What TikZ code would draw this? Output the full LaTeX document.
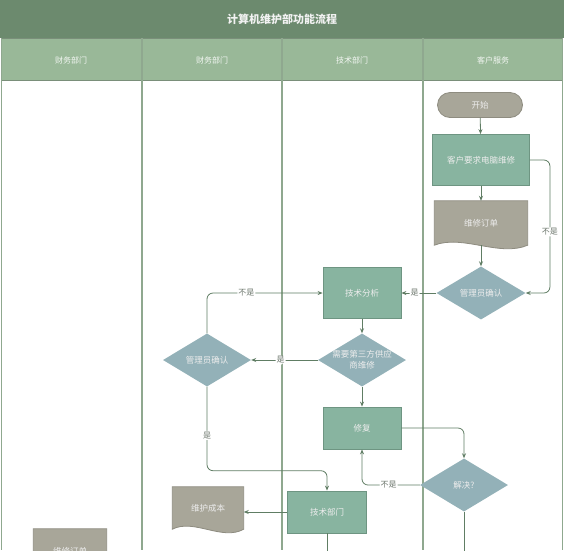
\documentclass[tikz,border=0pt]{standalone}
\usepackage{fontspec}
\setmainfont{Noto Sans CJK SC}
\usetikzlibrary{arrows.meta,shapes.geometric,calc}
\definecolor{titlegreen}{HTML}{6C8A6E}
\definecolor{headgreen}{HTML}{99B898}
\definecolor{laneline}{HTML}{8FA88F}
\definecolor{procfill}{HTML}{88B4A0}
\definecolor{procline}{HTML}{6E9582}
\definecolor{greyfill}{HTML}{A8A699}
\definecolor{greyline}{HTML}{8E8C80}
\definecolor{decfill}{HTML}{93B1B8}
\definecolor{flowline}{HTML}{607D64}
\definecolor{lbltext}{HTML}{6E786E}
\pgfdeclarelayer{lanes}
\pgfdeclarelayer{paper}
\pgfsetlayers{lanes,paper,main}
\newcommand\docwave[1]{\filldraw[fill=greyfill, draw=greyline, line width=0.8pt] (#1.south west) -- (#1.north west) -- (#1.north east) -- (#1.south east) .. controls ($(#1.south east)!0.3!(#1.south west)+(0,12)$) and ($(#1.south east)!0.7!(#1.south west)+(0,-11)$) .. (#1.south west) -- cycle;}
\begin{document}
\begin{tikzpicture}[x=1pt, y=-1pt, every node/.style={text=white!93!black, inner sep=2pt, font=\fontsize{8.5}{10.5}\selectfont},
	proc/.style={rectangle, fill=procfill, draw=procline, line width=0.8pt},
	term/.style={rectangle, rounded corners=12.5pt, fill=greyfill, draw=greyline, line width=0.8pt, minimum width=85pt, minimum height=25pt},
	docbox/.style={rectangle},
	dec/.style={diamond, fill=decfill, inner sep=0pt, minimum width=89pt, minimum height=53pt},
	lanehead/.style={text=white!88!headgreen, font=\fontsize{8}{10}\selectfont},
	flow/.style={draw=flowline, line width=0.8pt, rounded corners=6pt, -{Stealth[length=5pt,width=4pt]}},
	tail/.style={draw=flowline, line width=0.8pt},
	lbl/.style={fill=white, text=lbltext, inner sep=1pt, font=\fontsize{8}{9}\selectfont}]
	\useasboundingbox (0,0) rectangle (564,550);
	\clip (0,0) rectangle (564,550);
	\begin{pgfonlayer}{lanes}
		\fill[white] (0,0) rectangle (564,550);
		\fill[titlegreen] (0,0) rectangle (564,38);
		\fill[headgreen] (1,38) rectangle (563,80);
		\draw[laneline!85!black, line width=1pt] (1,38) -- (563,38) (1,80) -- (563,80);
		\foreach \lx in {1.5,142,282,423,562.5}
			\draw[laneline, line width=1.5pt] (\lx,38) -- (\lx,550);
	\end{pgfonlayer}
	\node[font=\bfseries\fontsize{11}{13}\selectfont, text=white!95!black] (title) at (282,19) {计算机维护部功能流程};
	\node[lanehead] (h1) at (71,60) {财务部门};
	\node[lanehead] (h2) at (212,60) {财务部门};
	\node[lanehead] (h3) at (352,60) {技术部门};
	\node[lanehead] (h4) at (493,60) {客户服务};
	\node[term] (start) at (480,105) {开始};
	\node[proc, minimum width=97pt, minimum height=51pt] (req) at (481,160) {客户要求电脑维修};
	\node[docbox, minimum width=93pt, minimum height=44pt] (order) at (481,223) {维修订单};
	\node[dec] (chk1) at (481,293) {\makebox[0pt]{管理员确认}};
	\node[proc, minimum width=78pt, minimum height=51pt] (ana) at (362,293) {技术分析};
	\node[dec, minimum width=88pt] (third) at (362,360) {\makebox[0pt]{\shortstack{需要第三方供应\\商维修}}};
	\node[dec, minimum width=88pt] (chk2) at (207,360) {\makebox[0pt]{管理员确认}};
	\node[proc, minimum width=78pt, minimum height=42pt] (fix) at (362,428) {修复};
	\node[dec, minimum width=88pt] (solve) at (464,485) {\makebox[0pt]{解决?}};
	\node[proc, minimum width=79pt, minimum height=42pt] (tdep) at (327,512) {技术部门};
	\node[docbox, minimum width=71pt, minimum height=42pt] (cost) at (208,508) {维护成本};
	\node[docbox, minimum width=73pt, minimum height=44pt] (fin) at (70,551) {维修订单};
	\begin{pgfonlayer}{paper}
		\clip (0,0) rectangle (564,550);
		\docwave{order}
		\docwave{cost}
		\docwave{fin}
	\end{pgfonlayer}
	\draw[flow] (start) -- (req);
	\draw[flow] (req) -- (order);
	\draw[flow] (order.south) -- (chk1);
	\draw[flow] (req.east) -- ++(20,0) |- node[lbl, pos=0.27] (l1) {不是} (chk1.east);
	\draw[flow] (chk1.west) -- node[lbl, pos=0.62] (l2) {是} (ana.east);
	\draw[flow] (ana) -- (third);
	\draw[flow] (third.west) -- node[lbl, pos=0.56] (l3) {是} (chk2.east);
	\draw[flow] (chk2.north) |- node[lbl, pos=0.67] (l4) {不是} (ana.west);
	\draw[flow] (third) -- (fix);
	\draw[flow] (fix.east) -| (solve.north);
	\draw[flow] (solve.west) -| node[lbl, pos=0.27] (l5) {不是} (fix.south);
	\draw[flow] (chk2.south) -- node[lbl, pos=0.58] (l6) {是} ++(0,84) -| (tdep.north);
	\draw[flow] (tdep.west) -- (tdep.west -| cost.east);
	\draw[tail] (tdep.south) -- ++(0,40);
	\draw[tail] (solve.south) -- ++(0,40);
\end{tikzpicture}
\end{document}
